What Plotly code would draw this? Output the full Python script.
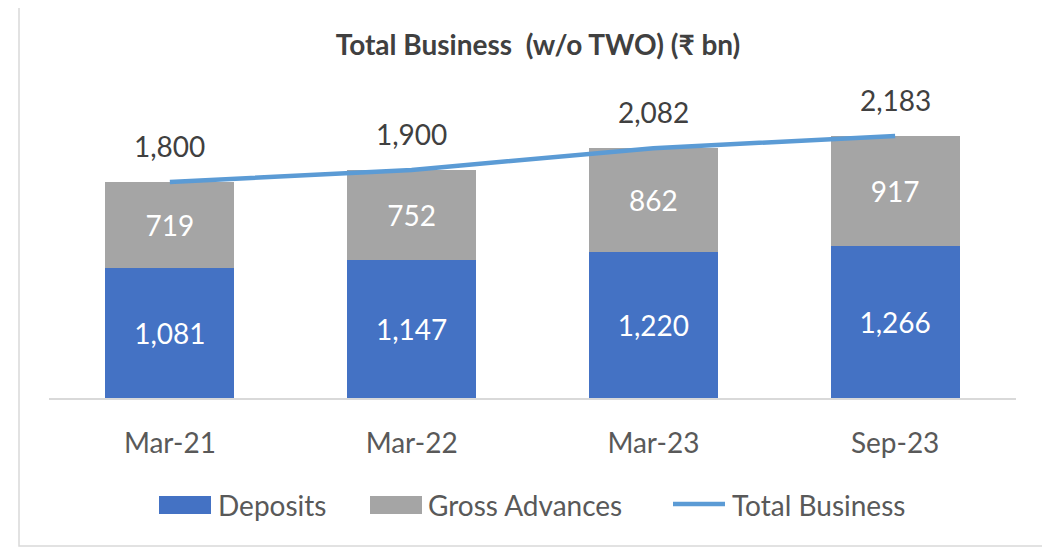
import plotly.graph_objects as go

categories = ["Mar-21", "Mar-22", "Mar-23", "Sep-23"]
deposits = [1081, 1147, 1220, 1266]
gross_advances = [719, 752, 862, 917]
total_business = [1800, 1900, 2082, 2183]
series_names = ["Deposits", "Gross Advances", "Total Business"]
series_colors = ["#4472C4", "#A5A5A5", "#5B9BD5"]

FONT = "Lato, 'Open Sans', sans-serif"

# page body has an 8px offset; figure sized so it fills the 1050x548 window
OFF = 8
W, H = 1050 - OFF, 548 - OFF
PL, PR, PT, PB = 49, 1016, 98, 398  # plot area in screen pixels
pw, ph = PR - PL, PB - PT


def px(sx):
    return (sx - PL) / pw


def py(sy):
    return (PB - sy) / ph


fig = go.Figure()
fig.add_trace(go.Bar(
    x=categories, y=deposits, name=series_names[0],
    marker=dict(color=series_colors[0], line=dict(width=0)),
    text=[f"{v:,}" for v in deposits], textposition="inside",
    insidetextanchor="middle", textangle=0,
    textfont=dict(color="white", size=28, family=FONT),
    hoverinfo="skip", showlegend=False,
))
fig.add_trace(go.Bar(
    x=categories, y=gross_advances, name=series_names[1],
    marker=dict(color=series_colors[1], line=dict(width=0)),
    text=[f"{v:,}" for v in gross_advances], textposition="inside",
    insidetextanchor="middle", textangle=0,
    textfont=dict(color="white", size=28, family=FONT),
    hoverinfo="skip", showlegend=False,
))
fig.add_trace(go.Scatter(
    x=categories, y=total_business, name=series_names[2],
    mode="lines", line=dict(color=series_colors[2], width=4.5),
    hoverinfo="skip", showlegend=False,
))

for c, v in zip(categories, total_business):
    fig.add_annotation(
        x=c, y=v, text=f"{v:,}", showarrow=False,
        yanchor="middle", xanchor="center", yshift=36,
        font=dict(size=28, color="#404040", family=FONT),
    )

# chart border
fig.add_shape(
    type="rect", xref="paper", yref="paper",
    x0=px(19), x1=px(1046), y0=py(546), y1=py(3),
    line=dict(color="#D9D9D9", width=1.5), fillcolor="rgba(0,0,0,0)", layer="below",
)

# legend (drawn to match the large Office-style keys)
leg_y = 505
fig.add_shape(type="rect", xref="paper", yref="paper",
              x0=px(159), x1=px(211), y0=py(514), y1=py(496),
              fillcolor=series_colors[0], line=dict(width=0))
fig.add_shape(type="rect", xref="paper", yref="paper",
              x0=px(370), x1=px(422), y0=py(514), y1=py(496),
              fillcolor=series_colors[1], line=dict(width=0))
fig.add_shape(type="line", xref="paper", yref="paper",
              x0=px(673), x1=px(725), y0=py(leg_y - 1), y1=py(leg_y - 1),
              line=dict(color=series_colors[2], width=4.5))
for name, sx in zip(series_names, [216, 426, 730]):
    fig.add_annotation(
        x=px(sx), y=py(leg_y), xref="paper", yref="paper", text=name,
        showarrow=False, xanchor="left", yanchor="middle",
        font=dict(size=28, color="#595959", family=FONT),
    )

fig.update_layout(
    width=W, height=H,
    margin=dict(l=PL - OFF, r=1050 - PR, t=PT - OFF, b=548 - PB),
    paper_bgcolor="white", plot_bgcolor="white",
    barmode="stack", bargap=0.466,
    font=dict(family=FONT, color="#595959"),
    title=dict(
        text="<b>Total Business  (w/o TWO) (₹ bn)</b>",
        x=px(538), xref="paper", xanchor="center",
        y=1 - (45 - OFF) / H, yref="container", yanchor="middle",
        font=dict(size=28, color="#404040", family=FONT),
    ),
    xaxis=dict(
        showgrid=False, showline=True, linecolor="#D9D9D9", linewidth=1.5,
        ticks="", tickfont=dict(size=28, color="#595959", family=FONT),
        ticklabelstandoff=20,
    ),
    yaxis=dict(
        range=[0, 2500], visible=False, showgrid=False, zeroline=False,
    ),
    showlegend=False,
)

fig.write_html("out.html")
